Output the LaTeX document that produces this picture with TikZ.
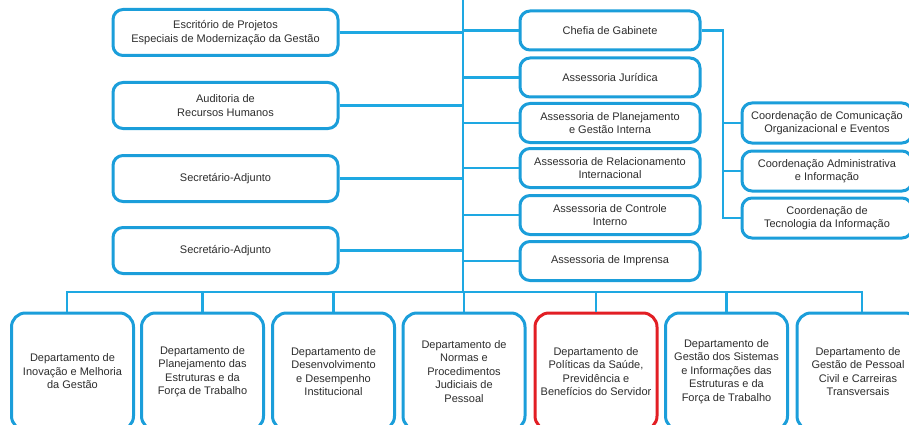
\documentclass[tikz,border=0pt]{standalone}
\usepackage{fontspec}
\setmainfont{Liberation Sans}
\definecolor{orgline}{RGB}{30,168,226}
\definecolor{orgbox}{RGB}{27,158,218}
\definecolor{orgred}{RGB}{226,30,36}
\definecolor{orgtext}{RGB}{45,45,45}
\begin{document}
\begin{tikzpicture}[x=1pt,y=-1pt,
  unit/.style={draw=orgbox,line width=3pt,rounded corners=10pt,fill=white,
    align=center,text=orgtext,inner sep=0pt,
    font=\fontsize{11}{13.5}\selectfont},
  leftbox/.style={unit,minimum width=225pt,minimum height=46pt},
  advbox/.style={unit,minimum width=180pt,minimum height=39pt},
  coordbox/.style={unit,minimum width=170pt,minimum height=40pt},
  deptbox/.style={unit,rounded corners=14pt,minimum width=122pt,minimum height=117pt},
  highlight/.style={draw=orgred},
  link/.style={draw=orgline,line width=2.6pt}]
\path[use as bounding box] (0,0) rectangle (909,425);
\clip (0,0) rectangle (909,425);

% main trunk and bus coordinates
\coordinate (trunkTop) at (463,-2);
\coordinate (trunkBot) at (463,292);
\coordinate (coordBar) at (723,0);

% left column
\node[leftbox] (esc) at (225.5,32.5) {Escritório de Projetos\\Especiais de Modernização da Gestão};
\node[leftbox] (aud) at (225.5,105.5) {Auditoria de\\Recursos Humanos};
\node[leftbox] (sa1) at (225.5,178.5) {Secretário-Adjunto};
\node[leftbox] (sa2) at (225.5,250.5) {Secretário-Adjunto};

% advisory column
\node[advbox] (gab) at (610,30.5) {Chefia de Gabinete};
\node[advbox] (jur) at (610,77.5) {Assessoria Jurídica};
\node[advbox] (pla) at (610,123) {Assessoria de Planejamento\\e Gestão Interna};
\node[advbox] (rel) at (610,168) {Assessoria de Relacionamento\\Internacional};
\node[advbox] (con) at (610,215) {Assessoria de Controle\\Interno};
\node[advbox] (imp) at (610,261) {Assessoria de Imprensa};

% coordination column
\node[coordbox] (com) at (827,123) {Coordenação de Comunicação\\Organizacional e Eventos};
\node[coordbox] (adm) at (827,171) {Coordenação Administrativa\\e Informação};
\node[coordbox] (tec) at (827,218) {Coordenação de\\Tecnologia da Informação};

% departments
\node[deptbox] (d1) at (72.5,371.5) {Departamento de\\Inovação e Melhoria\\da Gestão};
\node[deptbox] (d2) at (202.5,371.5) {Departamento de\\Planejamento das\\Estruturas e da\\Força de Trabalho};
\node[deptbox] (d3) at (333.5,371.5) {Departamento de\\Desenvolvimento\\e Desempenho\\Institucional};
\node[deptbox] (d4) at (464,371.5) {Departamento de\\Normas e\\Procedimentos\\Judiciais de\\Pessoal};
\node[deptbox,highlight] (d5) at (596,371.5) {Departamento de\\Políticas da Saúde,\\Previdência e\\Benefícios do Servidor};
\node[deptbox] (d6) at (726.5,371.5) {Departamento de\\Gestão dos Sistemas\\e Informações das\\Estruturas e da\\Força de Trabalho};
\node[deptbox] (d7) at (858,371.5) {Departamento de\\Gestão de Pessoal\\Civil e Carreiras\\Transversais};

% drop points of the outer departments sit slightly outside their centres
\coordinate (d1top) at ([xshift=-5.5pt]d1.north);
\coordinate (d7top) at ([xshift=4pt]d7.north);

% trunk
\draw[link] (trunkTop) -- (trunkBot);
% left branches
\foreach \n in {esc,aud,sa1,sa2} \draw[link] (\n.east) -- (\n.east -| trunkTop);
% advisory branches
\foreach \n in {gab,jur,pla,rel,con,imp} \draw[link] (\n.west -| trunkTop) -- (\n.west);
% coordination bar
\draw[link] (gab.east) -- (gab.east -| coordBar) -- (tec.west -| coordBar) -- (tec.west);
\foreach \n in {com,adm} \draw[link] (\n.west -| coordBar) -- (\n.west);
% department bus
\draw[link,line cap=rect] (d1top |- trunkBot) -- (d7top |- trunkBot);
\foreach \n in {d1top,d7top} \draw[link] (\n |- trunkBot) -- (\n);
\foreach \n in {d2,d3,d4,d5,d6} \draw[link] (\n.north |- trunkBot) -- (\n.north);
\end{tikzpicture}
\end{document}
